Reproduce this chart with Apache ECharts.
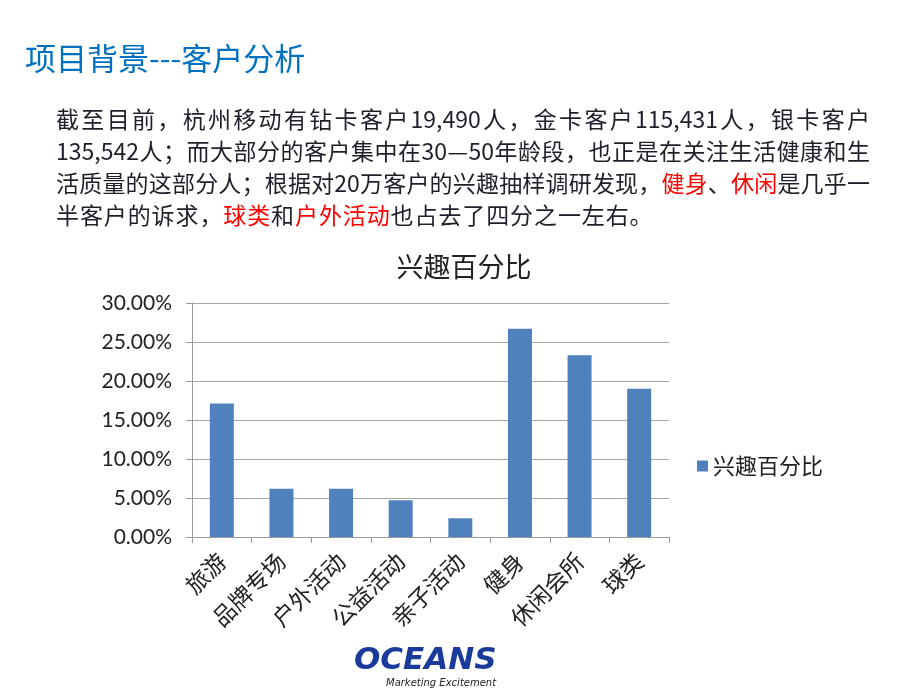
<!DOCTYPE html>
<html>
<head>
<meta charset="utf-8">
<script src="https://cdn.jsdelivr.net/npm/echarts@6/dist/echarts.min.js"></script>
<style>
html,body{margin:0;padding:0;background:#fff;}
#chart{width:920px;height:690px;}
</style>
</head>
<body>
<div id="chart"></div>
<script>
const categories = ['旅游','品牌专场','户外活动','公益活动','亲子活动','健身','休闲会所','球类'];
const interestValues = [0.171, 0.062, 0.062, 0.047, 0.024, 0.267, 0.233, 0.190];
const seriesName = '兴趣百分比';
const yTicks = [0, 0.05, 0.10, 0.15, 0.20, 0.25, 0.30];

// paragraph lines: [text, highlighted(red)] segments
const paraLines = [
  [['截至目前，杭州移动有钻卡客户19,490人，金卡客户115,431人，银卡客户', false]],
  [['135,542人；而大部分的客户集中在30—50年龄段，也正是在关注生活健康和生', false]],
  [['活质量的这部分人；根据对20万客户的兴趣抽样调研发现，', false], ['健身', true], ['、', false], ['休闲', true], ['是几乎一', false]],
  [['半客户的诉求，', false], ['球类', true], ['和', false], ['户外活动', true], ['也占去了四分之一左右。', false]]
];

const CJK = '"Noto Sans CJK SC", "Microsoft YaHei", sans-serif';
const chart = echarts.init(document.getElementById('chart'));

const PFS = 23;
const measCtx = document.createElement('canvas').getContext('2d');
measCtx.font = PFS + 'px ' + CJK;

function buildPara() {
  const out = [];
  const x0 = 56, x1 = 870, y0 = 108, lh = 32;
  paraLines.forEach((segs, li) => {
    const chars = [];
    segs.forEach(([t, red]) => { for (const ch of Array.from(t)) chars.push({ch, red}); });
    // group digit runs so they keep natural spacing
    const tokens = [];
    chars.forEach(c => {
      const last = tokens[tokens.length - 1];
      if (last && /[0-9,]/.test(c.ch) && /[0-9,]$/.test(last.t) && last.red === c.red) last.t += c.ch;
      else tokens.push({t: c.ch, red: c.red});
    });
    const widths = tokens.map(tk => measCtx.measureText(tk.t).width);
    const natural = widths.reduce((a, b) => a + b, 0);
    const justify = li < paraLines.length - 1;
    const gap = justify ? (x1 - x0 - natural) / (tokens.length - 1) : 0.9;
    let x = x0;
    tokens.forEach((tk, i) => {
      out.push({
        type: 'text', x: x, y: y0 + li * lh, silent: true,
        style: {text: tk.t, fontFamily: CJK, fontSize: PFS, fill: tk.red ? '#ff0000' : '#1f1f2a', textVerticalAlign: 'top'}
      });
      x += widths[i] + gap;
    });
  });
  return out;
}

chart.setOption({
  backgroundColor: '#ffffff',
  animation: false,
  title: {
    text: seriesName,
    left: 459, top: 248, textAlign: 'center',
    textStyle: {fontFamily: CJK, fontSize: 27, fontWeight: 'normal', color: '#222'}
  },
  legend: {
    data: [seriesName],
    left: 692, top: 450,
    icon: 'rect', itemWidth: 11, itemHeight: 11, itemGap: 8,
    textStyle: {fontFamily: CJK, fontSize: 22, color: '#222'}
  },
  grid: {left: 192, right: 251, top: 303, bottom: 153},
  xAxis: {
    type: 'category',
    data: categories,
    axisLine: {lineStyle: {color: '#9a9a9a'}},
    axisTick: {show: true, length: 6, lineStyle: {color: '#9a9a9a'}},
    axisLabel: {rotate: 45, margin: 20, fontFamily: CJK, fontSize: 23, color: '#222', interval: 0}
  },
  yAxis: {
    type: 'value',
    min: 0, max: 0.30, interval: 0.05,
    axisLine: {show: true, lineStyle: {color: '#9a9a9a'}},
    axisTick: {show: true, length: 6, lineStyle: {color: '#9a9a9a'}},
    splitLine: {lineStyle: {color: '#a6a6a6'}},
    axisLabel: {
      margin: 20, fontFamily: 'Lato, sans-serif', fontSize: 21, color: '#222',
      formatter: v => (v * 100).toFixed(2) + '%'
    }
  },
  series: [{
    name: seriesName,
    type: 'bar',
    data: interestValues,
    barWidth: 24,
    itemStyle: {color: '#4f81bd'}
  }],
  graphic: [
    {type: 'text', left: 25, top: 43, style: {text: '项目背景---客户分析', fontFamily: CJK, fontSize: 31, fill: '#0070c0'}},
    {type: 'group', children: buildPara()},
    {type: 'text', left: 354, top: 645, style: {text: 'OCEANS', fontFamily: '"DejaVu Sans", sans-serif', fontSize: 31, fontWeight: 'bold', fontStyle: 'italic', fill: '#1a3a9c'}},
    {type: 'text', left: 386, top: 678, style: {text: 'Marketing Excitement', fontFamily: '"DejaVu Sans", sans-serif', fontSize: 10, fontStyle: 'italic', fill: '#222'}}
  ]
});
</script>
</body>
</html>
